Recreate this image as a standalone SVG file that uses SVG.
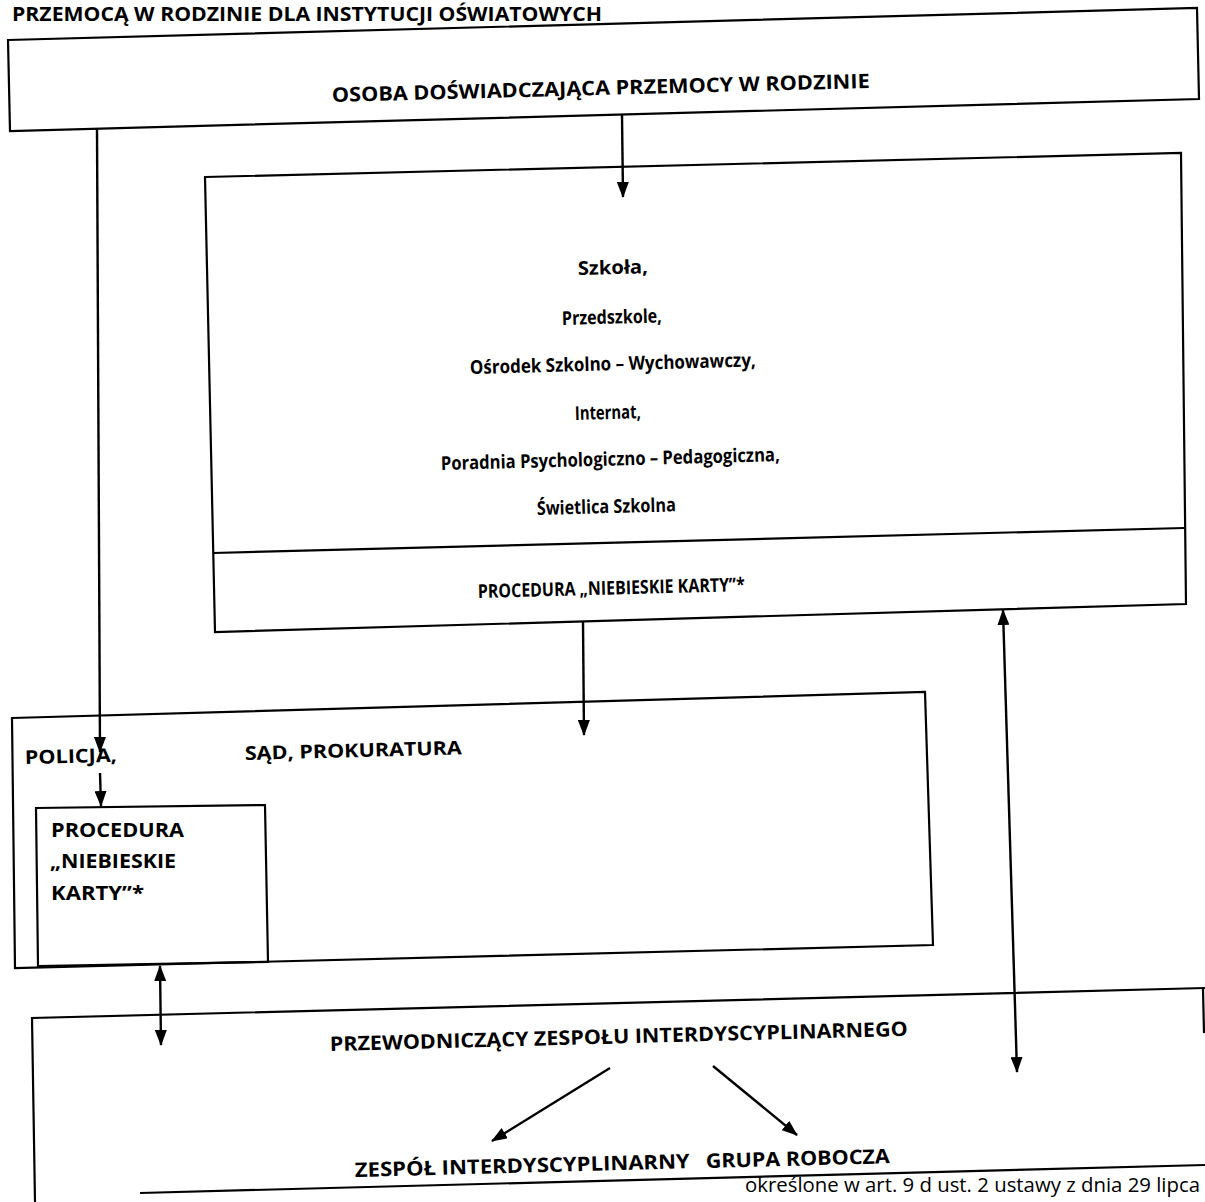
<svg xmlns="http://www.w3.org/2000/svg" width="1205" height="1202" viewBox="0 0 1205 1202">
<defs>
<marker id="ah" viewBox="0 0 16 12" refX="15" refY="6" markerWidth="16" markerHeight="12" markerUnits="userSpaceOnUse" orient="auto-start-reverse">
<path d="M0,0 L16,6 L0,12 z" fill="#000"/>
</marker>
<style>
.box{fill:none;stroke:#000;stroke-width:2.2;stroke-linejoin:miter}
.ln{fill:none;stroke:#000;stroke-width:2.2}
.c{fill:none;stroke:#000;stroke-width:2.4;marker-end:url(#ah)}
.d{marker-start:url(#ah)}
.t{font-family:"Open Sans","Liberation Sans",sans-serif;font-weight:700;fill:#000;font-size:20px}
.m{font-size:19px}
.r{font-weight:400}
</style>
</defs>
<rect width="1205" height="1202" fill="#fff"/>
<text class="t" x="12" y="21" font-size="19" textLength="590" lengthAdjust="spacingAndGlyphs">PRZEMOCĄ W RODZINIE DLA INSTYTUCJI OŚWIATOWYCH</text>

<g id="osoba">
<polygon class="box" points="8,40 1197,8 1199,99 10,131"/>
<text class="t" x="332" y="102" textLength="538" lengthAdjust="spacingAndGlyphs" transform="rotate(-1.5 332 102)">OSOBA DOŚWIADCZAJĄCA PRZEMOCY W RODZINIE</text>
</g>

<g id="placowki">
<polygon class="box" points="205,177 1181,153 1186,604 215,632"/>
<line class="ln" x1="213" y1="553" x2="1184" y2="528"/>
<text class="t m" x="578" y="275" textLength="70" lengthAdjust="spacingAndGlyphs" transform="rotate(-1.5 578 275)">Szkoła,</text>
<text class="t m" x="562" y="325" textLength="100" lengthAdjust="spacingAndGlyphs" transform="rotate(-1.5 562 325)">Przedszkole,</text>
<text class="t m" x="470" y="374" textLength="286" lengthAdjust="spacingAndGlyphs" transform="rotate(-1.5 470 374)">Ośrodek Szkolno – Wychowawczy,</text>
<text class="t m" x="575" y="420" textLength="66" lengthAdjust="spacingAndGlyphs" transform="rotate(-1.5 575 420)">Internat,</text>
<text class="t m" x="441" y="470" textLength="339" lengthAdjust="spacingAndGlyphs" transform="rotate(-1.5 441 470)">Poradnia Psychologiczno – Pedagogiczna,</text>
<text class="t m" x="537" y="515" textLength="139" lengthAdjust="spacingAndGlyphs" transform="rotate(-1.5 537 515)">Świetlica Szkolna</text>
<text class="t m" x="478" y="598" textLength="267" lengthAdjust="spacingAndGlyphs" transform="rotate(-1.5 478 598)">PROCEDURA „NIEBIESKIE KARTY”*</text>
</g>

<g id="policja-sad">
<polygon class="box" points="12,718 925,692 933,945 15,968"/>
<text class="t m" x="25" y="764" textLength="92" lengthAdjust="spacingAndGlyphs" transform="rotate(-1.5 25 764)">POLICJA,</text>
<text class="t m" x="245" y="760" textLength="217" lengthAdjust="spacingAndGlyphs" transform="rotate(-1.5 245 760)">SĄD, PROKURATURA</text>
</g>

<g id="procedura-policja">
<polygon class="box" points="36,808 265,805 268,962 38,966"/>
<text class="t m" x="51" y="837" textLength="133" lengthAdjust="spacingAndGlyphs">PROCEDURA</text>
<text class="t m" x="50" y="868" textLength="126" lengthAdjust="spacingAndGlyphs">„NIEBIESKIE</text>
<text class="t m" x="51" y="900" textLength="93" lengthAdjust="spacingAndGlyphs">KARTY”*</text>
</g>

<g id="zespol">
<polyline class="ln" points="35,1202 32,1018 1205,988"/>
<line class="ln" x1="1203" y1="989" x2="1204" y2="1033"/>
<line class="ln" x1="140" y1="1193" x2="1205" y2="1165"/>
<text class="t" x="330" y="1051" textLength="578" lengthAdjust="spacingAndGlyphs" transform="rotate(-1.5 330 1051)">PRZEWODNICZĄCY ZESPOŁU INTERDYSCYPLINARNEGO</text>
<text class="t" x="355" y="1177" textLength="335" lengthAdjust="spacingAndGlyphs" transform="rotate(-1.5 355 1177)">ZESPÓŁ INTERDYSCYPLINARNY</text>
<text class="t" x="706" y="1168" textLength="184" lengthAdjust="spacingAndGlyphs" transform="rotate(-1.5 706 1168)">GRUPA ROBOCZA</text>
</g>

<text class="t r" x="1200" y="1192" font-size="18" text-anchor="end" textLength="455" lengthAdjust="spacingAndGlyphs">określone w art. 9 d ust. 2 ustawy z dnia 29 lipca</text>

<g id="connectors">
<line class="c" x1="622" y1="115" x2="623" y2="197"/>
<line class="c" x1="583" y1="622" x2="584" y2="735"/>
<line class="c" x1="97" y1="129" x2="100" y2="752"/>
<line class="c" x1="100" y1="773" x2="101" y2="806"/>
<line class="c d" x1="160" y1="966" x2="161" y2="1045"/>
<line class="c d" x1="1003" y1="610" x2="1017" y2="1072"/>
<line class="c" x1="610" y1="1068" x2="492" y2="1141"/>
<line class="c" x1="713" y1="1066" x2="797" y2="1135"/>
</g>
</svg>
